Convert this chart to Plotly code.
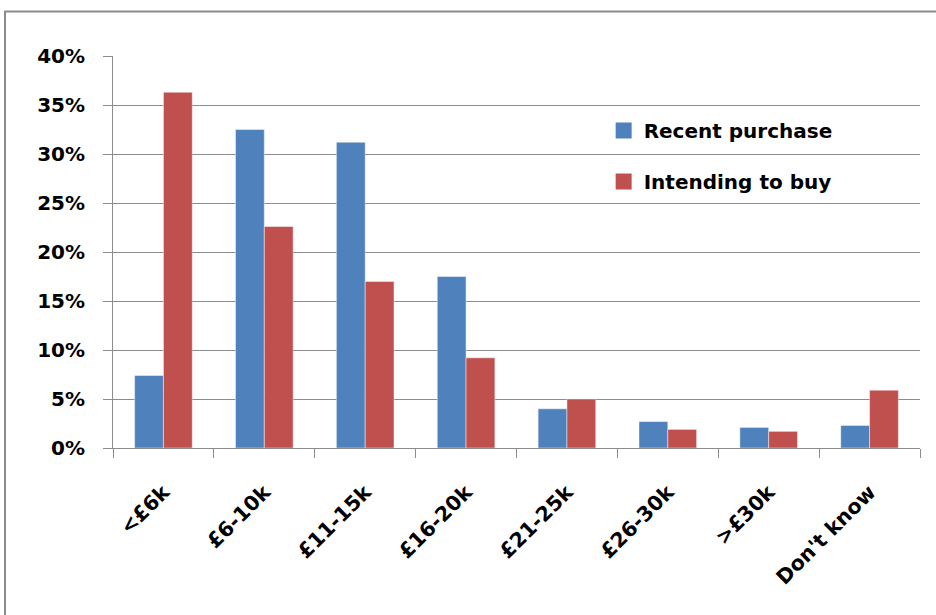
import plotly.graph_objects as go

# Price bands and share of respondents (%) in each band
categories = ["<£6k", "£6-10k", "£11-15k", "£16-20k", "£21-25k", "£26-30k", ">£30k", "Don't know"]
recent_purchase = [7.4, 32.5, 31.2, 17.5, 4.0, 2.7, 2.1, 2.3]
intending_to_buy = [36.3, 22.6, 17.0, 9.2, 5.0, 1.9, 1.7, 5.9]
y_ticks = [0, 5, 10, 15, 20, 25, 30, 35, 40]
y_tick_labels = [f"{v}%" for v in y_ticks]

BLUE = "#4F81BD"
RED = "#C0504D"
GRID = "#8C8C8C"
FONT = "DejaVu Sans"

fig = go.Figure()
for name, values, color in [("Recent purchase", recent_purchase, BLUE),
                            ("Intending to buy", intending_to_buy, RED)]:
    fig.add_trace(go.Bar(
        x=categories, y=values, name=name, showlegend=False,
        marker=dict(color=color, line=dict(color="rgba(255,255,255,0.45)", width=1)),
    ))

# Legend entries with larger square swatches
for i, (name, color) in enumerate([("Recent purchase", BLUE), ("Intending to buy", RED)]):
    fig.add_trace(go.Scatter(
        x=[None], y=[None], mode="markers", name=name,
        marker=dict(symbol="square", size=16, color=color),
        legendgroup=f"g{i}", showlegend=True,
    ))

# Outer chart frame
fig.add_shape(
    type="rect", xref="paper", yref="paper",
    x0=-0.1338, x1=1.2, y0=-0.6, y1=1.1135,
    line=dict(color="#8A8A8A", width=2), fillcolor="rgba(0,0,0,0)", layer="below",
)

fig.update_layout(
    width=936, height=615,
    margin=dict(l=113, r=16, t=56, b=167, pad=0),
    paper_bgcolor="white", plot_bgcolor="white",
    barmode="group", bargap=0.4286, bargroupgap=0,
    font=dict(family=FONT, color="black"),
    showlegend=True,
    legend=dict(
        x=0.608, y=0.86, xanchor="left", yanchor="top",
        bgcolor="rgba(0,0,0,0)", borderwidth=0,
        font=dict(family=FONT, size=20, weight="bold"),
        traceorder="grouped", tracegroupgap=22,
        itemwidth=30,
    ),
    xaxis=dict(
        type="category", tickson="boundaries",
        ticks="outside", ticklen=9, tickcolor=GRID, tickwidth=1,
        showline=True, linecolor=GRID, linewidth=1,
        tickangle=-45, ticklabelstandoff=23,
        tickfont=dict(family=FONT, size=20.5, weight="bold"),
        showgrid=False,
    ),
    yaxis=dict(
        range=[0, 40], tickmode="array", tickvals=y_ticks, ticktext=y_tick_labels,
        ticks="outside", ticklen=9, tickcolor=GRID, tickwidth=1,
        showline=True, linecolor=GRID, linewidth=1,
        showgrid=True, gridcolor=GRID, gridwidth=1,
        ticklabelstandoff=14,
        tickfont=dict(family=FONT, size=20, weight="bold"),
        zeroline=False,
    ),
)

fig.write_html("out.html")
